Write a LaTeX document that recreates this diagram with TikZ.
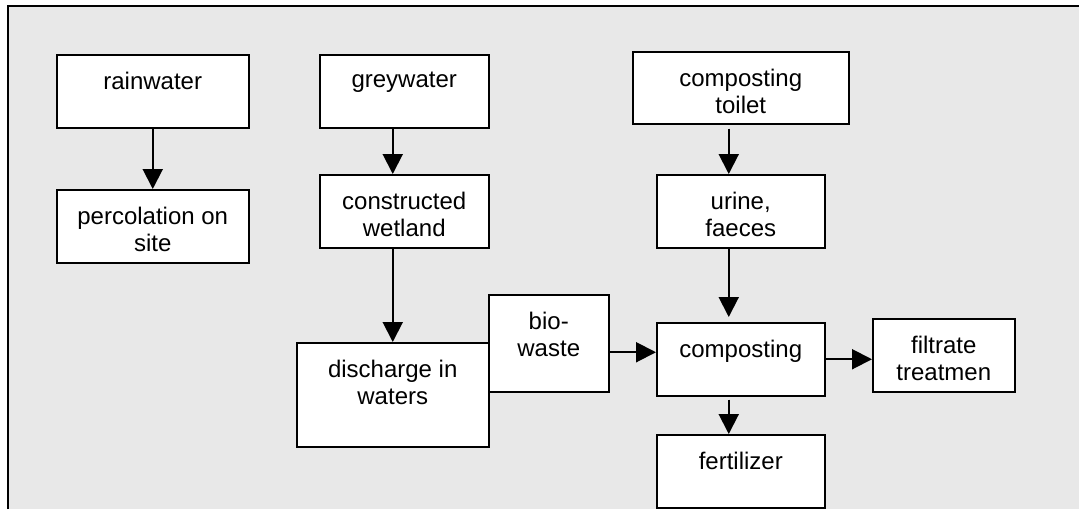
\documentclass[tikz,border=0pt]{standalone}
\usepackage{fontspec}
\setmainfont{Liberation Sans}
\usetikzlibrary{arrows.meta}
\definecolor{PanelGrey}{HTML}{E8E8E8}
\newcommand{\boxtext}[3]{\parbox[t][#2][t]{#1}{\centering\vspace*{17pt}#3}}

\begin{document}
\begin{tikzpicture}[x=1pt, y=-1pt,
    font=\fontsize{24}{27}\selectfont,
    unit/.style={draw, fill=white, line width=1.5pt, inner sep=0pt, anchor=north west},
    flow/.style={line width=2pt, -{Triangle[length=20pt,width=20pt]}}]
  \useasboundingbox (0,0) rectangle (1079,509);
  \fill[PanelGrey] (8,6) rectangle (1079,509);
  \draw[line width=2pt] (8,509) -- (8,6) -- (1079,6);

  % sources
  \node[unit] (rain)   at (56,54)  {\boxtext{192pt}{73pt}{rainwater}};
  \node[unit] (grey)   at (319,54) {\boxtext{169pt}{73pt}{greywater}};
  \node[unit] (toilet) at (632,51) {\boxtext{216pt}{72pt}{composting\\toilet}};

  % treatment
  \node[unit] (perc)  at (56,189)  {\boxtext{192pt}{73pt}{percolation on\\site}};
  \node[unit] (wet)   at (319,174) {\boxtext{169pt}{73pt}{constructed\\wetland}};
  \node[unit] (urine) at (656,174) {\boxtext{168pt}{73pt}{urine,\\faeces}};
  \node[unit] (disch) at (296,342) {\boxtext{192pt}{104pt}{discharge in\\waters}};
  \node[unit] (bio)   at (488,294) {\boxtext{120pt}{97pt}{bio-\\waste}};
  \node[unit] (comp)  at (656,322) {\boxtext{168pt}{73pt}{composting}};
  \node[unit] (filt)  at (872,318) {\boxtext{142pt}{73pt}{filtrate\\treatmen}};
  \node[unit] (fert)  at (656,434) {\boxtext{168pt}{73pt}{fertilizer}};

  \draw[flow] (rain) -- (perc);
  \draw[flow] (grey.south -| disch.north) -- (wet.north -| disch.north);
  \draw[flow] (wet.south -| disch.north) -- (disch.north);
  \draw[flow] ([xshift=-12pt,yshift=-4pt]toilet.south) -- ([xshift=-12pt]urine.north);
  \draw[flow] ([xshift=-12pt]urine.south) -- ([xshift=-12pt,yshift=5pt]comp.north);
  \draw[flow] ([xshift=-12pt,yshift=-3pt]comp.south) -- ([xshift=-12pt]fert.north);
  \coordinate (bioout) at ([yshift=-9pt]bio.east);
  \draw[flow] (bioout) -- (bioout -| comp.west);
  \draw[flow] (comp.east) -- (comp.east -| filt.west);
\end{tikzpicture}
\end{document}
